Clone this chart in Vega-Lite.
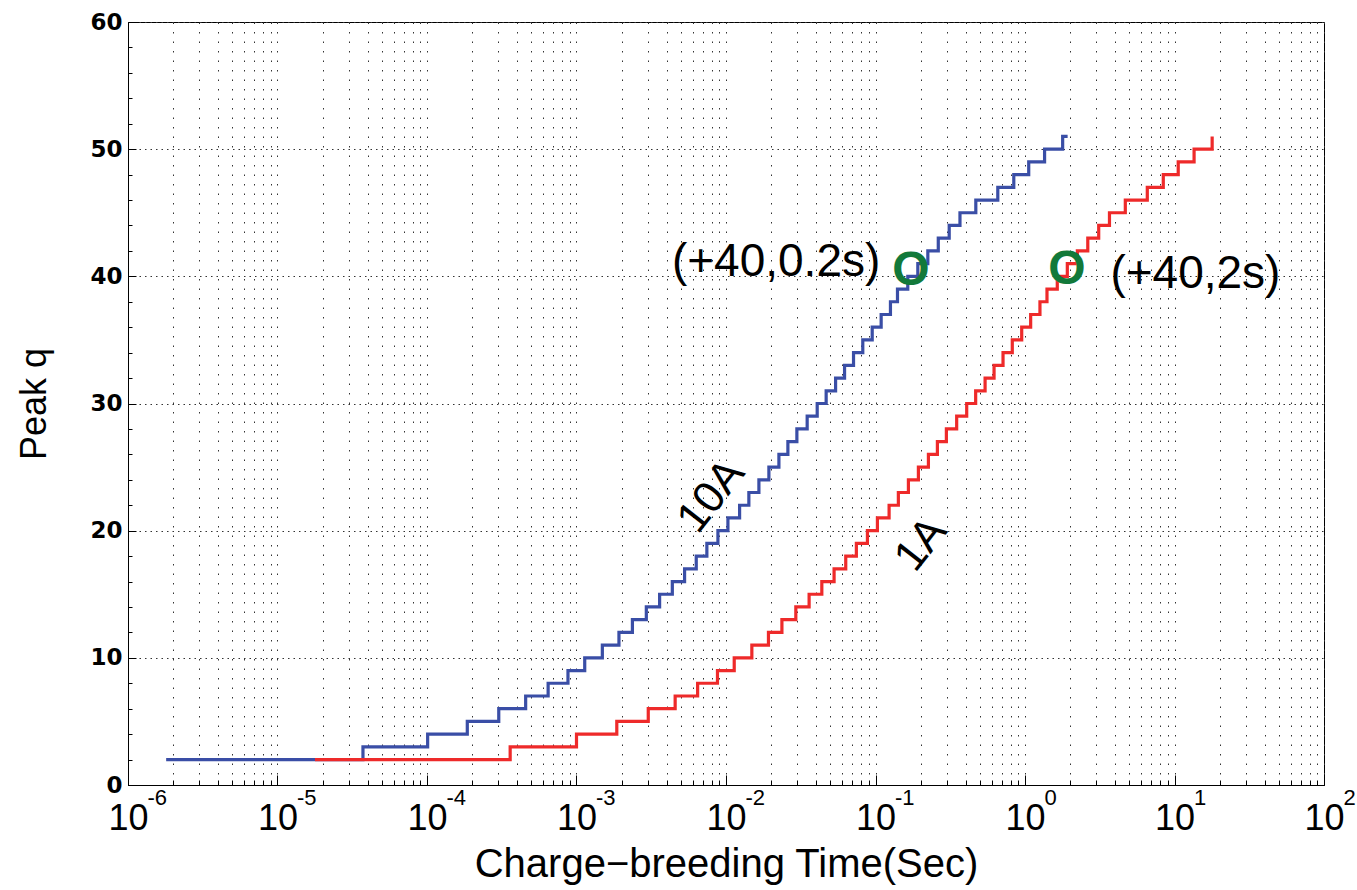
{
  "$schema": "https://vega.github.io/schema/vega-lite/v6.json",
  "width": 1196,
  "height": 763,
  "autosize": {"type": "none"},
  "padding": {"left": 128, "top": 22, "right": 33, "bottom": 105},
  "background": "white",
  "config": {
    "view": {"stroke": "#000000", "strokeWidth": 1},
    "axis": {"domainColor": "#000000", "tickColor": "#000000", "labelColor": "#000000", "titleColor": "#000000", "domainWidth": 1, "tickWidth": 1}
  },
  "datasets": {
    "steps": [
      {"t": 1.8e-6, "q": 2, "series": "10A"},
      {"t": 3.73e-5, "q": 3, "series": "10A"},
      {"t": 1.01e-4, "q": 4, "series": "10A"},
      {"t": 1.86e-4, "q": 5, "series": "10A"},
      {"t": 3.02e-4, "q": 6, "series": "10A"},
      {"t": 4.57e-4, "q": 7, "series": "10A"},
      {"t": 6.46e-4, "q": 8, "series": "10A"},
      {"t": 8.77e-4, "q": 9, "series": "10A"},
      {"t": 1.135e-3, "q": 10, "series": "10A"},
      {"t": 1.489e-3, "q": 11, "series": "10A"},
      {"t": 1.923e-3, "q": 12, "series": "10A"},
      {"t": 2.366e-3, "q": 13, "series": "10A"},
      {"t": 2.931e-3, "q": 14, "series": "10A"},
      {"t": 3.597e-3, "q": 15, "series": "10A"},
      {"t": 4.375e-3, "q": 16, "series": "10A"},
      {"t": 5.284e-3, "q": 17, "series": "10A"},
      {"t": 6.324e-3, "q": 18, "series": "10A"},
      {"t": 7.447e-3, "q": 19, "series": "10A"},
      {"t": 8.831e-3, "q": 20, "series": "10A"},
      {"t": 0.0103, "q": 21, "series": "10A"},
      {"t": 0.01233, "q": 22, "series": "10A"},
      {"t": 0.01422, "q": 23, "series": "10A"},
      {"t": 0.0166, "q": 24, "series": "10A"},
      {"t": 0.01936, "q": 25, "series": "10A"},
      {"t": 0.02259, "q": 26, "series": "10A"},
      {"t": 0.02594, "q": 27, "series": "10A"},
      {"t": 0.02979, "q": 28, "series": "10A"},
      {"t": 0.03491, "q": 29, "series": "10A"},
      {"t": 0.04074, "q": 30, "series": "10A"},
      {"t": 0.04677, "q": 31, "series": "10A"},
      {"t": 0.05408, "q": 32, "series": "10A"},
      {"t": 0.06209, "q": 33, "series": "10A"},
      {"t": 0.07129, "q": 34, "series": "10A"},
      {"t": 0.08222, "q": 35, "series": "10A"},
      {"t": 0.09506, "q": 36, "series": "10A"},
      {"t": 0.1091, "q": 37, "series": "10A"},
      {"t": 0.1259, "q": 38, "series": "10A"},
      {"t": 0.1403, "q": 39, "series": "10A"},
      {"t": 0.1644, "q": 40, "series": "10A"},
      {"t": 0.1919, "q": 41, "series": "10A"},
      {"t": 0.2239, "q": 42, "series": "10A"},
      {"t": 0.263, "q": 43, "series": "10A"},
      {"t": 0.3112, "q": 44, "series": "10A"},
      {"t": 0.3673, "q": 45, "series": "10A"},
      {"t": 0.4688, "q": 46, "series": "10A"},
      {"t": 0.6577, "q": 47, "series": "10A"},
      {"t": 0.8414, "q": 48, "series": "10A"},
      {"t": 1.059, "q": 49, "series": "10A"},
      {"t": 1.352, "q": 50, "series": "10A"},
      {"t": 1.786, "q": 51, "series": "10A"},
      {"t": 1.928, "q": 51, "series": "10A"},
      {"t": 1.78e-5, "q": 2, "series": "1A"},
      {"t": 3.6e-4, "q": 3, "series": "1A"},
      {"t": 1.0e-3, "q": 4, "series": "1A"},
      {"t": 1.86e-3, "q": 5, "series": "1A"},
      {"t": 3.02e-3, "q": 6, "series": "1A"},
      {"t": 4.57e-3, "q": 7, "series": "1A"},
      {"t": 6.46e-3, "q": 8, "series": "1A"},
      {"t": 8.77e-3, "q": 9, "series": "1A"},
      {"t": 0.01135, "q": 10, "series": "1A"},
      {"t": 0.01489, "q": 11, "series": "1A"},
      {"t": 0.01923, "q": 12, "series": "1A"},
      {"t": 0.02366, "q": 13, "series": "1A"},
      {"t": 0.02931, "q": 14, "series": "1A"},
      {"t": 0.03597, "q": 15, "series": "1A"},
      {"t": 0.04375, "q": 16, "series": "1A"},
      {"t": 0.05284, "q": 17, "series": "1A"},
      {"t": 0.06324, "q": 18, "series": "1A"},
      {"t": 0.07447, "q": 19, "series": "1A"},
      {"t": 0.08831, "q": 20, "series": "1A"},
      {"t": 0.103, "q": 21, "series": "1A"},
      {"t": 0.1233, "q": 22, "series": "1A"},
      {"t": 0.1422, "q": 23, "series": "1A"},
      {"t": 0.166, "q": 24, "series": "1A"},
      {"t": 0.1936, "q": 25, "series": "1A"},
      {"t": 0.2259, "q": 26, "series": "1A"},
      {"t": 0.2594, "q": 27, "series": "1A"},
      {"t": 0.2979, "q": 28, "series": "1A"},
      {"t": 0.3491, "q": 29, "series": "1A"},
      {"t": 0.4074, "q": 30, "series": "1A"},
      {"t": 0.4677, "q": 31, "series": "1A"},
      {"t": 0.5408, "q": 32, "series": "1A"},
      {"t": 0.6209, "q": 33, "series": "1A"},
      {"t": 0.7129, "q": 34, "series": "1A"},
      {"t": 0.8222, "q": 35, "series": "1A"},
      {"t": 0.9506, "q": 36, "series": "1A"},
      {"t": 1.091, "q": 37, "series": "1A"},
      {"t": 1.259, "q": 38, "series": "1A"},
      {"t": 1.403, "q": 39, "series": "1A"},
      {"t": 1.644, "q": 40, "series": "1A"},
      {"t": 1.919, "q": 41, "series": "1A"},
      {"t": 2.239, "q": 42, "series": "1A"},
      {"t": 2.63, "q": 43, "series": "1A"},
      {"t": 3.112, "q": 44, "series": "1A"},
      {"t": 3.673, "q": 45, "series": "1A"},
      {"t": 4.688, "q": 46, "series": "1A"},
      {"t": 6.577, "q": 47, "series": "1A"},
      {"t": 8.414, "q": 48, "series": "1A"},
      {"t": 10.59, "q": 49, "series": "1A"},
      {"t": 13.52, "q": 50, "series": "1A"},
      {"t": 17.86, "q": 51, "series": "1A"}
    ],
    "circles": [
      {"t": 0.1726, "q": 40.45, "label": "O"},
      {"t": 1.905, "q": 40.5, "label": "O"}
    ],
    "notes": [
      {"t": 0.02163, "q": 41.1, "label": "(+40,0.2s)"},
      {"t": 13.8, "q": 40.2, "label": "(+40,2s)"}
    ],
    "currents": [
      {"t": 0.00802, "q": 22.7, "label": "10A"},
      {"t": 0.2028, "q": 18.9, "label": "1A"}
    ]
  },
  "layer": [
    {
      "data": {"name": "steps"},
      "mark": {"type": "line", "interpolate": "step-after", "strokeWidth": 3.2},
      "encoding": {
        "x": {
          "field": "t", "type": "quantitative",
          "scale": {"type": "log", "domain": [1e-6, 100], "nice": false},
          "axis": {
            "orient": "bottom",
            "values": [1e-6, 2e-6, 3e-6, 4e-6, 5e-6, 6e-6, 7e-6, 8e-6, 9e-6, 1e-5, 2e-5, 3e-5, 4e-5, 5e-5, 6e-5, 7e-5, 8e-5, 9e-5, 1e-4, 2e-4, 3e-4, 4e-4, 5e-4, 6e-4, 7e-4, 8e-4, 9e-4, 1e-3, 2e-3, 3e-3, 4e-3, 5e-3, 6e-3, 7e-3, 8e-3, 9e-3, 0.01, 0.02, 0.03, 0.04, 0.05, 0.06, 0.07, 0.08, 0.09, 0.1, 0.2, 0.3, 0.4, 0.5, 0.6, 0.7, 0.8, 0.9, 1, 2, 3, 4, 5, 6, 7, 8, 9, 10, 20, 30, 40, 50, 60, 70, 80, 90, 100],
            "grid": true, "gridDash": [1.5, 8], "gridColor": "#333333", "gridWidth": 1,
            "tickSize": -5,
            "labelExpr": "abs(log(datum.value)/LN10 - round(log(datum.value)/LN10)) < 0.001 ? '10' : ''",
            "labelFont": "Liberation Sans", "labelFontSize": 36, "labelPadding": 21, "labelBaseline": "top",
            "labelOverlap": false, "labelFlush": false,
            "title": "Charge−breeding Time(Sec)", "titleFont": "Liberation Sans", "titleFontSize": 40, "titleFontWeight": "normal", "titlePadding": 8
          }
        },
        "y": {
          "field": "q", "type": "quantitative",
          "scale": {"domain": [0, 60], "nice": false},
          "axis": {
            "orient": "left", "values": [0, 10, 20, 30, 40, 50, 60],
            "grid": true, "gridDash": [1.5, 4], "gridColor": "#333333",
            "tickSize": -8,
            "labelFont": "DejaVu Sans", "labelFontSize": 23, "labelFontWeight": "bold", "labelPadding": 14,
            "title": "Peak q", "titleFont": "Liberation Sans", "titleFontSize": 36, "titleFontWeight": "normal", "titlePadding": 36
          }
        },
        "color": {"field": "series", "type": "nominal", "scale": {"domain": ["10A", "1A"], "range": ["#3a4ea6", "#ee2a2a"]}, "legend": null}
      }
    },
    {
      "data": {"name": "circles"},
      "mark": {"type": "text", "font": "Liberation Sans", "fontWeight": "bold", "fontSize": 48, "color": "#12793a", "align": "center", "baseline": "middle"},
      "encoding": {
        "x": {
          "field": "t", "type": "quantitative",
          "scale": {"type": "log", "domain": [1e-6, 100], "nice": false},
          "axis": {
            "orient": "bottom",
            "values": [1e-6, 1e-5, 1e-4, 1e-3, 0.01, 0.1, 1, 10, 100],
            "grid": false, "domain": false, "tickSize": -10,
            "labelExpr": "'' + round(log(datum.value)/LN10)",
            "labelFont": "Liberation Sans", "labelFontSize": 22, "labelAlign": "left", "labelBaseline": "top",
            "labelOffset": 19, "labelPadding": 12, "labelOverlap": false, "labelFlush": false,
            "title": null
          }
        },
        "y": {
          "field": "q", "type": "quantitative",
          "scale": {"domain": [0, 60], "nice": false},
          "axis": {
            "orient": "left", "values": [0, 2, 4, 6, 8, 12, 14, 16, 18, 22, 24, 26, 28, 32, 34, 36, 38, 42, 44, 46, 48, 52, 54, 56, 58],
            "labels": false, "domain": false, "grid": false, "tickSize": -4, "title": null
          }
        },
        "text": {"field": "label"}
      }
    },
    {
      "data": {"name": "notes"},
      "mark": {"type": "text", "font": "Liberation Sans", "fontSize": 46, "color": "#000000", "align": "center", "baseline": "middle"},
      "encoding": {
        "x": {"field": "t", "type": "quantitative", "scale": {"type": "log", "domain": [1e-6, 100], "nice": false}, "axis": null},
        "y": {"field": "q", "type": "quantitative", "scale": {"domain": [0, 60], "nice": false}, "axis": null},
        "text": {"field": "label"}
      }
    },
    {
      "data": {"name": "currents"},
      "mark": {"type": "text", "font": "Liberation Sans", "fontSize": 44, "color": "#000000", "align": "center", "baseline": "middle", "angle": 308},
      "encoding": {
        "x": {"field": "t", "type": "quantitative", "scale": {"type": "log", "domain": [1e-6, 100], "nice": false}, "axis": null},
        "y": {"field": "q", "type": "quantitative", "scale": {"domain": [0, 60], "nice": false}, "axis": null},
        "text": {"field": "label"}
      }
    }
  ],
  "resolve": {"axis": {"x": "independent", "y": "independent"}}
}
